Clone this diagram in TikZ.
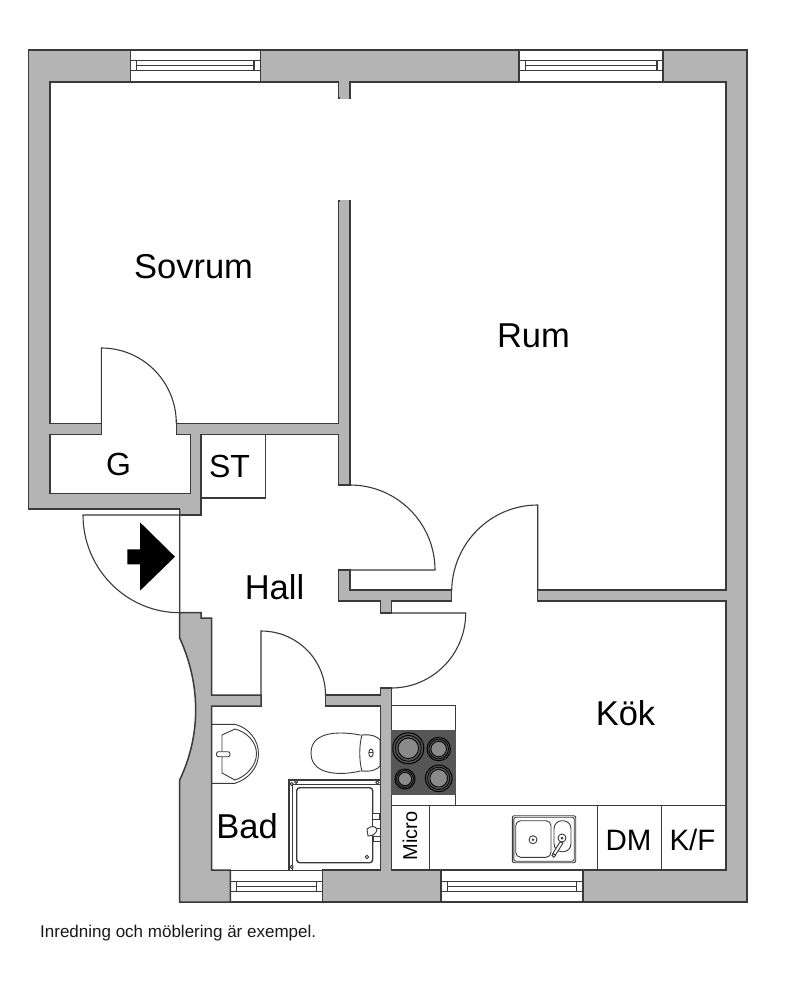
\documentclass[tikz,border=0pt]{standalone}
\usepackage{fontspec}
\setmainfont{Liberation Sans}
\definecolor{wallfill}{HTML}{B4B4B4}
\definecolor{ink}{HTML}{3A3A3A}
\definecolor{hob}{HTML}{565656}
\definecolor{ring}{HTML}{8A8A8A}
\newcommand{\windowset}[6]{%
  \draw[thinline] (#1,#3) -- (#2,#3) (#1,#4) -- (#2,#4);
  \draw[thinline] (#1,#3+10.7) rectangle (#2,#3+20.7);
  \draw[thinline] (#5,#3+10.7) rectangle (#6,#3+20.7);
  \draw[thinline] (#5,#3+15.7) -- (#6,#3+15.7);
}
\newcommand{\burner}[3]{%
  \filldraw[draw=black,fill=hob,line width=1pt] (#1,#2) circle (#3);
  \draw[black,line width=.8pt] (#1,#2) circle ({#3*0.84});
  \filldraw[draw=black,fill=ring,line width=.8pt] (#1,#2) circle ({#3*0.66});
}
\tikzset{
  x=1pt,y=-1pt,
  wall/.style={fill=wallfill,draw=ink,line width=1.5pt,line join=miter},
  thinline/.style={draw=ink,line width=1.2pt},
  leaf/.style={draw=ink,line width=1.1pt},
  fixture/.style={draw=ink,line width=.9pt},
  lbl/.style={font=\fontsize{34.5}{34}\selectfont,text=black,inner sep=0pt},
  lblb/.style={font=\fontsize{32}{32}\selectfont,text=black,inner sep=0pt},
  lblc/.style={font=\fontsize{29.5}{30}\selectfont,text=black,inner sep=0pt},
}
\begin{document}
\begin{tikzpicture}
\useasboundingbox (0,0) rectangle (800,993);
\fill[white] (0,0) rectangle (800,993);
% walls
\draw[wall] (130.3,50) -- (28.3,50) -- (28.3,509) -- (179.7,509) -- (179.7,515) -- (201,515) -- (201,434.3) -- (338.7,434.3) -- (338.7,485) -- (350,485) -- (350,201) -- (338.7,201) -- (338.7,423.3) -- (176.3,423.3) -- (176.3,434.3) -- (190.3,434.3) -- (190.3,493.3) -- (50,493.3) -- (50,434.3) -- (101.3,434.3) -- (101.3,423.3) -- (50,423.3) -- (50,82) -- (130.3,82) -- cycle;
\draw[wall] (260.3,50) -- (519,50) -- (519,82) -- (350,82) -- (350,98) -- (338.7,98) -- (338.7,82) -- (260.3,82) -- cycle;
\draw[wall] (663,50) -- (747,50) -- (747,902) -- (583,902) -- (583,870) -- (726,870) -- (726,601) -- (537.7,601) -- (537.7,590) -- (726,590) -- (726,82) -- (663,82) -- cycle;
\draw[wall] (338.7,570) -- (350,570) -- (350,590) -- (451.7,590) -- (451.7,601) -- (391.3,601) -- (391.3,613) -- (380.5,613) -- (380.5,601) -- (338.7,601) -- cycle;
\draw[wall] (441,870) -- (441,902) -- (322.3,902) -- (322.3,870) -- (380.7,870) -- (380.7,706) -- (325.5,706) -- (325.5,695) -- (380.5,695) -- (380.5,688) -- (391.3,688) -- (391.3,870) -- cycle;
\draw[wall] (179.7,612.7) -- (201,612.7) -- (201,618) -- (211.7,618) -- (211.7,695) -- (261,695) -- (261,706) -- (211.7,706) -- (211.7,870) -- (230.3,870) -- (230.3,902) -- (179.7,902) -- (179.7,780) .. controls (201,735) and (201,685) .. (179.7,638) -- cycle;
% open wall ends at the gap between the two rooms
\draw[wallfill,line width=1.8pt] (339.5,98) -- (349.2,98) (339.5,201) -- (349.2,201);
% windows
\windowset{130.3}{260.3}{50}{82}{136.5}{254}
\windowset{519}{663}{50}{82}{525.5}{657}
\windowset{230.3}{322.3}{870.6}{902}{236.7}{316.7}
\windowset{441}{583}{870.6}{902}{447.7}{576.7}
% doors
\draw[leaf] (101.3,423.3) -- (101.3,348) .. controls (142.7,348) and (176.3,381.6) .. (176.3,423.3);
\draw[leaf] (350,570) -- (435,570) .. controls (435,523.1) and (396.9,485) .. (350,485);
\draw[leaf] (537.7,590) -- (537.7,505) .. controls (490.8,505) and (452.7,543.1) .. (451.7,590);
\draw[leaf] (391.3,613) -- (465.7,613) .. controls (465.7,654.4) and (432.4,688) .. (391.3,688);
\draw[leaf] (261,695) -- (261,631) .. controls (296.6,631) and (325.5,659.4) .. (325.5,695);
\draw[leaf] (179.7,509) -- (179.7,612.7) .. controls (126.1,612.7) and (83,568.6) .. (83,515) -- (179.7,515);
% entry arrow
\fill[black] (140,522.3) -- (175,556.7) -- (140,590.7) -- (140,564.3) -- (127.3,564.3) -- (127.3,549.3) -- (140,549.3) -- cycle;
% storage and kitchen units
\draw[thinline] (201,498) -- (265.3,498) -- (265.3,434.3);
\draw[thinline] (391.3,705.7) -- (455.7,705.7) -- (455.7,805.7);
\fill[hob] (391.3,730) rectangle (455.7,795);
\burner{408.3}{748.3}{15.5}
\burner{438.7}{749}{11.7}
\burner{405}{779}{10}
\burner{438.7}{778.3}{13.3}
\draw[thinline] (391.3,805.7) -- (726,805.7);
\draw[thinline] (429.3,805.7) -- (429.3,870) (597.3,805.7) -- (597.3,870) (661.7,805.7) -- (661.7,870);
\draw[thinline] (391.3,870) -- (726,870);
% kitchen sink
\draw[fixture,rounded corners=2pt] (512.3,815.7) rectangle (575.7,862.7);
\draw[fixture,rounded corners=2pt] (513.8,817.2) rectangle (574.2,861.2);
\draw[fixture,rounded corners=5pt] (515.7,820.7) rectangle (551,857.3);
\draw[fixture,rounded corners=8pt] (554,820.7) rectangle (571,851.7);
\draw[fixture] (533,839.7) circle (4);
\fill[ink] (533,839.7) circle (1.3);
\draw[fixture] (562,838) circle (4);
\fill[ink] (562,838) circle (1.5);
\draw[fixture,fill=white] (560,842) -- (563,843) -- (555.5,855) -- (552.5,854) -- cycle;
\filldraw[fixture,fill=white] (553.7,855.5) circle (1.8);
% bathroom sink
\draw[fixture] (211.7,724.3) -- (235,724.3) .. controls (249,728) and (258.5,740) .. (258.5,753.7) .. controls (258.5,767) and (249,779) .. (235,783.3) -- (211.7,783.3);
\draw[fixture] (222,735) -- (235,729) .. controls (247,732) and (256.5,742) .. (256.5,753.7) .. controls (256.5,765) and (247,776) .. (235,780) -- (222,773) -- cycle;
\draw[fixture,fill=white,rounded corners=2pt] (216.5,751.7) rectangle (230,756.7);
% toilet
\draw[fixture] (360,735) .. controls (345,732) and (311,729) .. (311,753) .. controls (311,777) and (345,775) .. (360,771) -- (362,771) .. controls (372,772) and (378,769) .. (380,766) -- (380,740) .. controls (378,737) and (372,734) .. (362,735) -- cycle;
\draw[fixture] (362,735) .. controls (359,745) and (359,761) .. (362,771);
\draw[fixture] (371,753) ellipse (2.2 and 4);
\draw[fixture] (368.8,752) -- (373.2,752);
% shower
\draw[fixture,line width=1.1pt] (289,870) -- (289,780) -- (380.7,780);
\draw[fixture] (292,870) -- (292,784) -- (380.7,784);
\draw[ink,line width=1.4pt,rounded corners=3pt] (296.7,787.7) rectangle (372.7,862.7);
\foreach \cx/\cy in {291.7/784,296/782,377.3/782.5,291.7/867}
  \filldraw[fixture,fill=white] (\cx,\cy) circle (1.6);
\draw[fixture] (367,857) circle (1.8);
\draw[fixture,fill=white] (372,813) rectangle (379,819);
\draw[fixture,fill=white] (372.5,819) rectangle (380.7,828);
\draw[fixture,fill=white] (367,829) .. controls (372,825) and (376,826) .. (377,830) .. controls (376,834) and (372,836) .. (368,836) -- cycle;
\draw[fixture,fill=white] (373,836) rectangle (380.7,841);
% labels
\node[lbl] (sovrum) at (193.5,266.5) {Sovrum};
\node[lbl] (rum) at (533.5,336) {Rum};
\node[lblb] (g) at (118.5,464) {G};
\node[lblb] (st) at (229.5,466.5) {ST};
\node[lbl] (hall) at (274.5,587) {Hall};
\node[lbl] (kok) at (625.5,713.5) {Kök};
\node[lbl] (bad) at (247,826) {Bad};
\node[inner sep=0pt,rotate=90,font=\fontsize{20}{20}\selectfont] (micro) at (410,836) {Micro};
\node[lblc] (dm) at (628.5,840) {DM};
\node[lblc] (kf) at (692.5,840) {K/F};
\node[inner sep=0pt,anchor=west,font=\fontsize{17}{17}\selectfont,text=black!90] (note) at (40,933.5) {Inredning och möblering är exempel.};
\end{tikzpicture}
\end{document}
